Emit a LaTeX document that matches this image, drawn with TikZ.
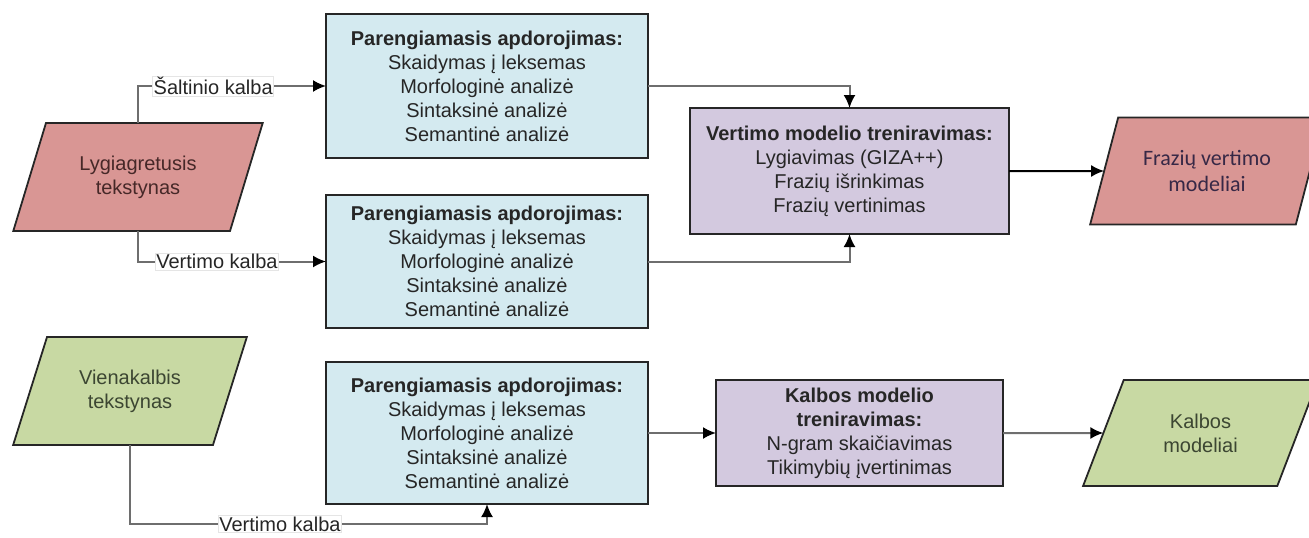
\documentclass[tikz,border=0pt]{standalone}
\usepackage{fontspec}
\setmainfont{Liberation Sans}
\newfontfamily\carlito{Carlito}
\usetikzlibrary{shapes.geometric,arrows.meta}
\definecolor{preblue}{HTML}{D4EAF0}
\definecolor{trainviolet}{HTML}{D3C9DF}
\definecolor{corpred}{HTML}{D99694}
\definecolor{corpgreen}{HTML}{C8D9A3}
\definecolor{linegray}{HTML}{6E6E6E}

\begin{document}
\begin{tikzpicture}[x=1pt,y=-1pt,
    font=\fontsize{20}{24}\selectfont,
    block/.style={draw=black!85, line width=1.8pt, align=center, inner sep=0pt, outer sep=0pt, text=black!85},
    prep/.style={block, fill=preblue, minimum width=322pt},
    train/.style={block, fill=trainviolet},
    data/.style={trapezium, trapezium left angle=64, trapezium right angle=116, trapezium stretches=true,
        draw=black!85, line width=1.8pt, align=center, inner sep=0pt, outer sep=0pt, minimum height=108pt},
    conn/.style={draw=linegray, line width=2pt, -{Latex[length=13pt,width=12pt,color=black]}},
    lang/.style={fill=white, draw=black!10, line width=0.6pt, inner sep=1pt, text=black!85}]
    \clip (0,0) rectangle (1309,538);

    \node[data, fill=corpred, minimum width=250pt, text={rgb,255:red,70;green,40;blue,40}] (lyg) at (138,177) {Lygiagretusis\\tekstynas};
    \node[data, fill=corpgreen, minimum width=234pt, text={rgb,255:red,60;green,70;blue,50}] (vien) at (130,391) {Vienakalbis\\tekstynas};

    \node[prep, minimum height=144pt] (pre1) at (487,86) {\textbf{Parengiamasis apdorojimas:}\\Skaidymas į leksemas\\Morfologinė analizė\\Sintaksinė analizė\\Semantinė analizė};
    \node[prep, minimum height=133pt] (pre2) at (487,261.5) {\textbf{Parengiamasis apdorojimas:}\\Skaidymas į leksemas\\Morfologinė analizė\\Sintaksinė analizė\\Semantinė analizė};
    \node[prep, minimum height=142pt] (pre3) at (487,433) {\textbf{Parengiamasis apdorojimas:}\\Skaidymas į leksemas\\Morfologinė analizė\\Sintaksinė analizė\\Semantinė analizė};

    \node[train, minimum width=319pt, minimum height=126pt] (vmt) at (849.5,171) {\textbf{Vertimo modelio treniravimas:}\\Lygiavimas (GIZA++)\\Frazių išrinkimas\\Frazių vertinimas};
    \node[train, minimum width=287pt, minimum height=106pt] (kmt) at (859.5,433) {\textbf{Kalbos modelio}\\\textbf{treniravimas:}\\N-gram skaičiavimas\\Tikimybių įvertinimas};

    \node[data, fill=corpred, minimum width=234pt, minimum height=107pt, font=\carlito\fontsize{22}{26}\selectfont,
        text={rgb,255:red,55;green,40;blue,70}] (fvm) at (1207,171) {Frazių vertimo\\modeliai};
    \node[data, fill=corpgreen, minimum width=235pt, minimum height=106pt, trapezium left angle=63, trapezium right angle=117,
        text={rgb,255:red,60;green,70;blue,50}] (km) at (1200.5,433) {Kalbos\\modeliai};

    \draw[conn] (lyg.north) |- node[lang, pos=0.7] {Šaltinio kalba} (pre1.west);
    \draw[conn] (lyg.south) |- node[lang, pos=0.71] {Vertimo kalba} (pre2.west);
    \draw[conn] (vien.south) -- ++(0,79) -| node[lang, pos=0.21] {Vertimo kalba} (pre3.south);

    \draw[conn] (pre1.east) -| (vmt.north);
    \draw[conn] (pre2.east) -| (vmt.south);
    \draw[conn, draw=black] (vmt) -- (fvm);

    \draw[conn] (pre3) -- (kmt);
    \draw[conn] (kmt) -- (km);
\end{tikzpicture}
\end{document}
